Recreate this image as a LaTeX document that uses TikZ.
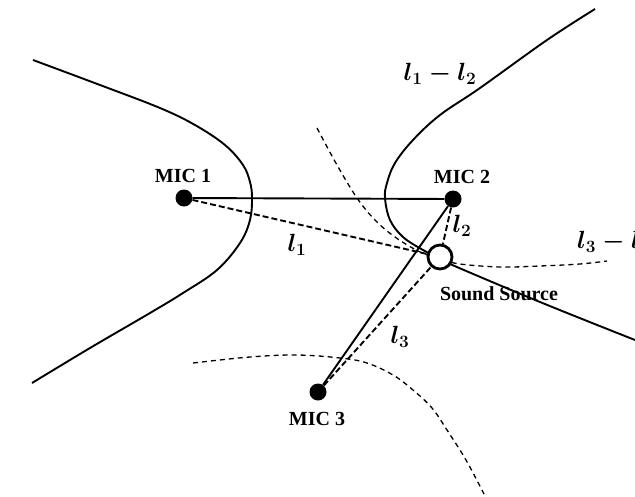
\documentclass[tikz,border=0pt]{standalone}
\usepackage{fontspec}
\setmainfont{Liberation Serif}
\usetikzlibrary{backgrounds}
\begin{document}
\begin{tikzpicture}[x=1pt,y=-1pt,
  mic/.style={circle,fill=black,inner sep=0pt,minimum size=17pt},
  srcnode/.style={circle,draw=black,line width=2.8pt,fill=white,inner sep=0pt,minimum size=24pt},
  lbl/.style={font=\bfseries\fontsize{20}{24}\selectfont,inner sep=0pt},
  mlbl/.style={font=\fontsize{23}{27}\selectfont\boldmath,inner sep=0pt},
  hyp/.style={line width=1.9pt},
  hypd/.style={line width=1.3pt,dash pattern=on 5pt off 4pt},
  link/.style={line width=1.9pt},
  linkd/.style={line width=1.9pt,dash pattern=on 6pt off 3pt}]
\useasboundingbox (0,0) rectangle (635,496);
% nodes
\node[mic] (mic1) at (184,198) {};
\node[mic] (mic2) at (453,199) {};
\node[mic] (mic3) at (318,392) {};
\node[srcnode] (src) at (440,257) {};
% labels
\node[lbl] (t1) at (183,176) {MIC 1};
\node[lbl] (t2) at (462,177) {MIC 2};
\node[lbl] (t3) at (317,419) {MIC 3};
\node[lbl] (ts) at (499,294) {Sound Source};
\node[mlbl] (l1) at (297,245) {$l_1$};
\node[mlbl] (l2) at (462,226) {$l_2$};
\node[mlbl] (l3) at (400,337) {$l_3$};
\node[mlbl] (l12) at (440,74) {$l_1-l_2$};
\node[mlbl,anchor=west] (l32) at (577,242) {$l_3-l_2$};
\begin{scope}[on background layer]
% left branch
\draw[hyp] plot[smooth,tension=0.6] coordinates {(33,60) (100,85) (160,108) (195,125) (225,145) (243,165) (250,182) (252,198) (250,220) (240,243) (217,270) (183,293) (150,313) (90,348) (32,383)};
% right branch
\draw[hyp] plot[smooth,tension=0.6] coordinates {(595,9) (547,40) (480,88) (440,115) (413,140) (395,163) (387,183) (385,198) (390,220) (403,237) (423,250) (437,257) (450,264) (540,302) (635,340)};
% dashed curves
\draw[hypd] plot[smooth,tension=0.6] coordinates {(317,128) (337,165) (357,198) (375,220) (395,237) (420,252) (440,259) (460,264) (500,267) (540,266) (580,264) (607,261)};
\draw[hypd] plot[smooth,tension=0.6] coordinates {(193,363) (250,357) (297,355) (340,358) (367,363) (393,375) (413,390) (432,408) (447,430) (466,460) (484,494)};
% connectors
\draw[link] (mic1) -- (mic2);
\draw[link] (mic2) -- (mic3);
\draw[linkd] (mic1) -- (src);
\draw[linkd] (mic2) -- (src);
\draw[linkd] (mic3) -- (src);
\end{scope}
\end{tikzpicture}
\end{document}
